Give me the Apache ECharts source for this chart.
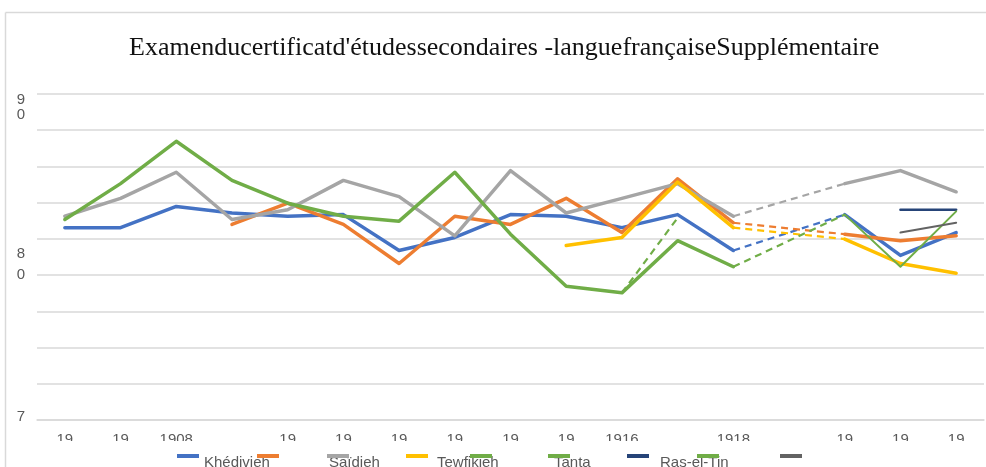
<!DOCTYPE html>
<html>
<head>
<meta charset="utf-8">
<script src="https://cdn.jsdelivr.net/npm/echarts@6/dist/echarts.min.js"></script>
<style>
  html, body { margin: 0; padding: 0; background: #fff; }
  #main { width: 986px; height: 467px; }
</style>
</head>
<body>
<div id="main"></div>
<script>
// categories (years) and the truncated tick labels shown by the source chart
var years = ['1906', '1907', '1908', '1909', '1910', '1911', '1912', '1913', '1914',
    '1915', '1916', '1917', '1918', '1919', '1920', '1921', '1922'];
var tickLabels = ['19', '19', '1908', '', '19', '19', '19', '19', '19', '19',
    '1916', '', '1918', '', '19', '19', '19'];
// y labels wrap in the source; spacer lines push them off the tick a little
var yLabels = {
    90: '{s90| }\n{l90|9}\n{l90|0}',
    80: '{s80| }\n{l80|8}\n{l80|0}',
    70: '{l70|7}\n{s70| }'
};

var khedivieh = [81.8, 81.8, 83.1, 82.7, 82.5, 82.6, 80.4, 81.2, 82.6, 82.5, 81.8, 82.6, 80.4, null, 82.6, 80.1, 81.5];
var orange = [null, null, null, 82.0, 83.3, 82.0, 79.6, 82.5, 82.0, 83.6, 81.5, 84.8, 82.1, null, 81.4, 81.0, 81.3];
var saidieh = [82.5, 83.6, 85.2, 82.3, 82.9, 84.7, 83.7, 81.3, 85.3, 82.7, 83.6, 84.5, 82.5, null, 84.5, 85.3, 84.0];
var tewfikieh = [null, null, null, null, null, null, null, null, null, 80.7, 81.2, 84.6, 81.8, null, 81.1, 79.6, 79.0];
var greenA = [null, null, null, null, null, null, null, null, null, null, 77.8, 82.4, null, null, null, null, null];
var tanta = [82.3, 84.5, 87.1, 84.7, 83.3, 82.5, 82.2, 85.2, 81.4, 78.2, 77.8, 81.0, 79.4, null, null, null, null];
var rasElTin = [null, null, null, null, null, null, null, null, null, null, null, null, null, null, null, 82.9, 82.9];
var greenB = [null, null, null, null, null, null, null, null, null, null, null, null, null, null, 82.6, 79.4, 82.8];
var darkGray = [null, null, null, null, null, null, null, null, null, null, null, null, null, null, null, 81.5, 82.1];

// dashed bridge across the empty year
function bridge(fromArr, a, toArr, b) {
    return years.map(function(y, i) {
        if (i === a) return fromArr[a];
        if (i === b) return toArr[b];
        return null;
    });
}

var myChart = echarts.init(document.getElementById('main'));

function solid(name, data, color, width) {
    return {
        name: name, type: 'line', data: data, yAxisIndex: 1,
        symbol: 'none', connectNulls: false, animation: false,
        itemStyle: { color: color },
        lineStyle: { color: color, width: width, cap: 'round', join: 'round' }
    };
}
function dashed(name, data, color) {
    return {
        name: name, type: 'line', data: data, yAxisIndex: 1,
        symbol: 'none', connectNulls: true, animation: false,
        itemStyle: { color: color },
        lineStyle: { color: color, width: 2.2, type: [7, 5] }
    };
}

// legend placement (icon x, text x)
var legendItems = [
    { name: 'Khédivieh', icon: 177, text: 198, label: 'Khédivieh' },
    { name: 'orange', icon: 257, text: null },
    { name: 'Saïdieh', icon: 327, text: 323, label: 'Saïdieh' },
    { name: 'Tewfikieh', icon: 406, text: 431, label: 'Tewfikieh' },
    { name: 'greenA', icon: 470, text: null },
    { name: 'Tanta', icon: 548, text: 548, label: 'Tanta' },
    { name: 'Ras-el-Tin', icon: 627, text: 654, label: 'Ras-el-Tin' },
    { name: 'greenB', icon: 697, text: null },
    { name: 'darkGray', icon: 780, text: null }
];
var legends = [];
legendItems.forEach(function(it) {
    if (it.text !== null) {
        legends.push({
            data: [it.name], left: it.text, top: 455, itemWidth: 0, itemHeight: 0,
            itemGap: 0, padding: 0, selectedMode: false,
            formatter: function() { return it.label; },
            textStyle: { color: '#595959', fontSize: 15, fontFamily: 'Liberation Sans, Arial' }
        });
    }
    legends.push({
        data: [it.name], left: it.icon, top: 454, icon: 'rect', itemWidth: 22, itemHeight: 4,
        padding: 0, selectedMode: false, formatter: function() { return ''; },
        textStyle: { fontSize: 1 }
    });
});

var option = {
    backgroundColor: '#ffffff',
    animation: false,
    title: {
        text: "Examenducertificatd'étudessecondaires -languefrançaiseSupplémentaire",
        left: 124, top: 30,
        textStyle: { fontFamily: 'Liberation Serif, Times New Roman', fontWeight: 'normal', fontSize: 26, color: '#111' }
    },
    legend: legends,
    grid: { left: 37, right: 2, top: 94, bottom: 47 },
    xAxis: {
        type: 'category',
        data: years,
        boundaryGap: true,
        axisLine: { show: true, lineStyle: { color: '#d9d9d9', width: 1.5 } },
        axisTick: { show: false },
        axisLabel: {
            interval: 0, margin: 12, color: '#595959', fontSize: 15,
            fontFamily: 'Liberation Sans, Arial',
            formatter: function(v, i) { return tickLabels[i]; }
        }
    },
    yAxis: [{
        type: 'value', min: 0, max: 9, interval: 1,
        axisLabel: { show: false }, axisLine: { show: false }, axisTick: { show: false },
        splitLine: { lineStyle: { color: '#d9d9d9', width: 1.5 } }
    }, {
        type: 'value', min: 70, max: 90, interval: 10, position: 'left',
        axisLine: { show: false }, axisTick: { show: false }, splitLine: { show: false },
        axisLabel: {
            margin: 12, color: '#595959', fontSize: 15,
            fontFamily: 'Liberation Sans, Arial',
            formatter: function(v) { return yLabels[v] || ''; },
            rich: {
                s90: { lineHeight: 27, fontSize: 15 },
                l90: { lineHeight: 15, fontSize: 15, color: '#595959', fontFamily: 'Liberation Sans, Arial' },
                s80: { lineHeight: 15, fontSize: 15 },
                l80: { lineHeight: 21, fontSize: 15, color: '#595959', fontFamily: 'Liberation Sans, Arial' },
                l70: { lineHeight: 18, fontSize: 15, color: '#595959', fontFamily: 'Liberation Sans, Arial' },
                s70: { lineHeight: 6, fontSize: 6 }
            }
        }
    }],
    series: [
        solid('Khédivieh', khedivieh, '#4472C4', 3.5),
        solid('orange', orange, '#ED7D31', 3.5),
        solid('Saïdieh', saidieh, '#A5A5A5', 3.5),
        solid('Tewfikieh', tewfikieh, '#FFC000', 3.5),
        dashed('greenA', greenA, '#70AD47'),
        solid('Tanta', tanta, '#70AD47', 3.5),
        solid('Ras-el-Tin', rasElTin, '#264478', 2.5),
        solid('greenB', greenB, '#70AD47', 2),
        solid('darkGray', darkGray, '#636363', 2),
        dashed('bKhedivieh', bridge(khedivieh, 12, khedivieh, 14), '#4472C4'),
        dashed('bOrange', bridge(orange, 12, orange, 14), '#ED7D31'),
        dashed('bSaidieh', bridge(saidieh, 12, saidieh, 14), '#A5A5A5'),
        dashed('bTewfikieh', bridge(tewfikieh, 12, tewfikieh, 14), '#FFC000'),
        dashed('bTanta', bridge(tanta, 12, greenB, 14), '#70AD47')
    ],
    graphic: [
        // chart frame (left and top edges visible in the crop)
        { type: 'line', shape: { x1: 5.5, y1: 12.5, x2: 986, y2: 12.5 }, style: { stroke: '#d9d9d9', lineWidth: 1.5 }, z: 100 },
        { type: 'line', shape: { x1: 5.5, y1: 12.5, x2: 5.5, y2: 467 }, style: { stroke: '#d9d9d9', lineWidth: 1.5 }, z: 100 },
        // axis labels are clipped at the bottom in the source
        { type: 'rect', shape: { x: 37, y: 441, width: 949, height: 9 }, style: { fill: '#fff' }, z: 100 }
    ]
};

myChart.setOption(option);
</script>
</body>
</html>
